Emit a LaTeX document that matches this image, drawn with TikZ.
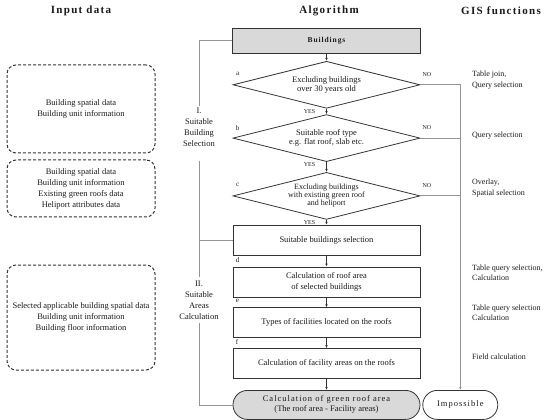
\documentclass[tikz,border=0pt]{standalone}
\usepackage{fontspec}
\setmainfont{Liberation Serif}
\newfontfamily\spacedfont[LetterSpace=12]{Liberation Serif}
\usetikzlibrary{shapes.geometric, arrows.meta, positioning, calc}

\definecolor{boxgray}{HTML}{D9D9D9}
\definecolor{linegray}{HTML}{949494}
\definecolor{boxline}{HTML}{333333}
\definecolor{inktext}{HTML}{1A1A1A}

\tikzset{
    heading/.style={font=\spacedfont\bfseries\fontsize{11}{13}\selectfont, text=inktext, inner sep=0pt},
    process/.style={rectangle, draw=boxline, line width=0.8pt, minimum width=187pt, minimum height=30pt, inner sep=0pt, align=center, text=inktext, font=\fontsize{8.5}{11}\selectfont},
    start/.style={process, fill=boxgray, minimum width=188pt, minimum height=25pt, font=\spacedfont\bfseries\fontsize{7.5}{9}\selectfont},
    decision/.style={diamond, draw=boxline, line width=0.8pt, aspect=4, inner sep=0pt, minimum width=187pt, minimum height=47pt, align=center, text=inktext, font=\fontsize{8.5}{8.5}\selectfont},
    terminal/.style={rectangle, rounded corners=14.5pt, draw=boxline, line width=0.8pt, minimum height=29pt, inner sep=0pt, align=center, text=inktext, font=\fontsize{8.5}{10}\selectfont},
    input/.style={rectangle, rounded corners=9pt, draw=boxline, densely dashed, line width=1pt, minimum width=148pt, align=center, text=inktext, font=\fontsize{8.5}{11}\selectfont},
    gis/.style={anchor=west, align=left, inner sep=0pt, text=inktext, font=\fontsize{8}{10.5}\selectfont},
    stage/.style={align=center, text=inktext, font=\fontsize{8.5}{11}\selectfont},
    steplabel/.style={inner sep=0pt, text=inktext, font=\fontsize{7}{8}\selectfont},
    answer/.style={inner sep=0pt, text=inktext, font=\fontsize{6}{7}\selectfont},
    flow/.style={-{Latex[length=3pt,width=2.6pt]}, draw=boxline, line width=0.6pt},
    reject/.style={draw=linegray, line width=0.8pt},
    bracket/.style={draw=linegray, line width=0.8pt}
}

\begin{document}
\begin{tikzpicture}[x=1pt, y=-1pt]
    \useasboundingbox (0,0) rectangle (550,420);

    % Column headings
    \node[heading] (h_input) at (81,11) {Input data};
    \node[heading] (h_algo) at (329,11) {Algorithm};
    \node[heading] (h_gis) at (501,11) {GIS functions};

    % Input data
    \node[input, minimum height=88pt] (in1) at (81,109) {Building spatial data\\Building unit information};
    \node[input, minimum height=57pt] (in2) at (81,188.5) {Building spatial data\\Building unit information\\Existing green roofs data\\Heliport attributes data};
    \node[input, minimum height=105pt] (in3) at (81,317.5) {Selected applicable building spatial data\\Building unit information\\Building floor information};

    % Algorithm
    \node[start] (bldg) at (326.5,40.5) {Buildings};
    \node[decision, below=7.5pt of bldg] (a) {Excluding buildings\\over 30 years old};
    \node[decision, below=5.5pt of a] (b) {Suitable roof type\\e.g. flat roof, slab etc.};
    \node[decision, font=\fontsize{8}{8}\selectfont, below=10pt of b] (c) {Excluding buildings\\with existing green roof\\and heliport};
    \node[process, below=5pt of c] (suit) {Suitable buildings selection};
    \node[process, below=11pt of suit] (roof) {Calculation of roof area\\of selected buildings};
    \node[process, below=10pt of roof] (types) {Types of facilities located on the roofs};
    \node[process, below=10pt of types] (fac) {Calculation of facility areas on the roofs};
    \node[terminal, fill=boxgray, minimum width=187pt, below=11pt of fac] (green) {{\spacedfont Calculation of green roof area}\\(The roof area - Facility areas)};
    \node[terminal, minimum width=75pt, right=2pt of green] (imp) {\spacedfont Impossible};

    % Step letters
    \node[steplabel] at ([xshift=5pt,yshift=11pt]a.west) {a};
    \node[steplabel] at ([xshift=5pt,yshift=10pt]b.west) {b};
    \node[steplabel] at ([xshift=5pt,yshift=11pt]c.west) {c};
    \node[steplabel, anchor=north west] at ([xshift=3pt,yshift=-1.5pt]suit.south west) {d};
    \node[steplabel, anchor=north west] at ([xshift=3pt,yshift=-1.5pt]roof.south west) {e};
    \node[steplabel, anchor=north west] at ([xshift=3pt,yshift=-1.5pt]types.south west) {f};

    % Flow
    \draw[flow] (bldg) -- (a);
    \draw[flow] (a) -- node[answer, anchor=north east, pos=0.05, xshift=-11pt] {YES} (b);
    \draw[flow] (b) -- node[answer, anchor=north east, pos=0.05, xshift=-11pt] {YES} (c);
    \draw[flow] (c) -- node[answer, anchor=north east, pos=0.05, xshift=-11pt] {YES} (suit);
    \draw[flow] (suit) -- (roof);
    \draw[flow] (roof) -- (types);
    \draw[flow] (types) -- (fac);
    \draw[flow] (fac) -- (green);

    % Rejections
    \draw[reject, -{Latex[length=3pt,width=2.6pt]}] (a.east) -| (imp.north);
    \draw[reject] (b.east) -- (b.east -| imp.north);
    \draw[reject] (c.east) -- (c.east -| imp.north);
    \node[answer, anchor=south west] at ([xshift=2pt,yshift=8pt]a.east) {NO};
    \node[answer, anchor=south west] at ([xshift=2pt,yshift=8pt]b.east) {NO};
    \node[answer, anchor=south west] at ([xshift=2pt,yshift=8pt]c.east) {NO};

    % Stages
    \node[stage, inner sep=1pt] (stage1) at (199,127) {I.\\Suitable\\Building\\Selection};
    \node[stage, inner sep=3pt] (stage2) at (199,300) {II.\\Suitable\\Areas\\Calculation};
    \draw[bracket] (bldg.west) -| (stage1.north);
    \draw[bracket] ([yshift=-13pt]stage1.south) -- (stage2.north);
    \draw[bracket] (suit.west) -- (suit.west -| stage1.south);
    \draw[bracket] (stage2.south) |- (green.west);

    % GIS functions
    \node[gis] (g_a) at (472,80) {Table join,\\Query selection};
    \node[gis] (g_b) at (472,136) {Query selection};
    \node[gis] (g_c) at (472,188) {Overlay,\\Spatial selection};
    \node[gis] (g_d) at (472,273) {Table query selection,\\Calculation};
    \node[gis] (g_e) at (472,313) {Table query selection\\Calculation};
    \node[gis] (g_f) at (472,357) {Field calculation};
\end{tikzpicture}
\end{document}
